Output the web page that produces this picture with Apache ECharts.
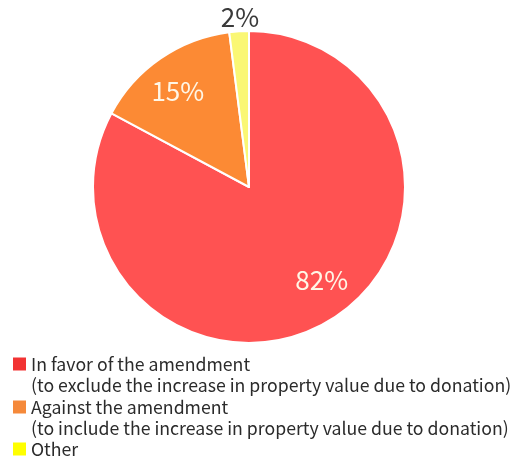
<!DOCTYPE html>
<html>
<head>
<meta charset="utf-8">
<script src="https://cdn.jsdelivr.net/npm/echarts@6/dist/echarts.min.js"></script>
<style>
  html, body { margin: 0; padding: 0; background: #fff; }
  #chart { width: 513px; height: 460px; }
</style>
</head>
<body>
<div id="chart"></div>
<script>
// Survey answers on the amendment, share of respondents (%)
var categories = ['In favor of the amendment', 'Against the amendment', 'Other'];
var details = [
  '(to exclude the increase in property value due to donation)',
  '(to include the increase in property value due to donation)',
  ''
];
var shares = [82, 15, 2];

var sliceColors = ['#FF5252', '#FC8A34', '#FAF774'];
var legendColors = ['#F23333', '#F5893A', '#FFFF00'];
var FONT = '"Noto Sans CJK KR", "Noto Sans", sans-serif';
var LEGEND_SIZE = 17.7;

var pieData = categories.map(function (name, i) {
  return {
    name: name,
    value: shares[i],
    itemStyle: { color: sliceColors[i], borderColor: '#ffffff', borderWidth: 2 }
  };
});
var ringData = categories.map(function (name, i) {
  return {
    name: name,
    value: shares[i],
    itemStyle: { color: 'rgba(0,0,0,0)', borderWidth: 0, borderColor: 'rgba(0,0,0,0)' }
  };
});

var center = [249, 187];
var R = 156;

// one legend block per answer so the icon sits on the first text line
var legendCenters = [364, 407, 449];
var legends = categories.map(function (name, i) {
  return {
    data: [{ name: name, itemStyle: { color: legendColors[i], borderWidth: 0 } }],
    left: 13,
    top: legendCenters[i] - 11,
    padding: 0,
    icon: 'rect',
    itemWidth: 13,
    itemHeight: 13,
    selectedMode: false,
    textStyle: { fontFamily: FONT, fontSize: LEGEND_SIZE, color: '#2b2b2b', lineHeight: 22 }
  };
});

var detailTexts = [];
details.forEach(function (t, i) {
  if (!t) return;
  detailTexts.push({
    type: 'text',
    left: 31,
    top: (legendCenters[i] + legendCenters[i + 1]) / 2 - 11,
    style: { text: t, font: LEGEND_SIZE + 'px ' + FONT, fill: '#2b2b2b', lineHeight: 22 }
  });
});

// small nudges for the in-slice percentage labels
var innerLabelShift = [[10, -12], [-2, 5], [0, 0]];

var chart = echarts.init(document.getElementById('chart'), null, { renderer: 'canvas' });
chart.setOption({
  animation: false,
  backgroundColor: '#ffffff',
  legend: legends,
  graphic: detailTexts,
  series: [
    {
      type: 'pie',
      center: center,
      radius: [0, R],
      startAngle: 90,
      clockwise: true,
      data: pieData,
      label: {
        show: true,
        position: 'outside',
        formatter: function (p) { return p.dataIndex === 2 ? p.value + '%' : ''; },
        fontFamily: FONT,
        fontSize: 26,
        color: '#3a3a3a'
      },
      labelLine: { show: false, length: 2, length2: 0 },
      labelLayout: function (p) {
        if (p.dataIndex === 2) return { align: 'center', verticalAlign: 'middle', dx: 6, dy: -12 };
      },
      emphasis: { disabled: true }
    },
    {
      // ring carrying the in-slice percentage labels at three quarters of the radius
      type: 'pie',
      center: center,
      radius: [82, R],
      startAngle: 90,
      clockwise: true,
      silent: true,
      z: 3,
      data: ringData,
      label: {
        show: true,
        position: 'inside',
        formatter: function (p) { return p.dataIndex < 2 ? p.value + '%' : ''; },
        fontFamily: FONT,
        fontSize: 26,
        color: '#FFF6E6'
      },
      labelLine: { show: false },
      labelLayout: function (p) {
        var s = innerLabelShift[p.dataIndex];
        return { dx: s[0], dy: s[1] };
      },
      emphasis: { disabled: true }
    }
  ]
});
</script>
</body>
</html>
